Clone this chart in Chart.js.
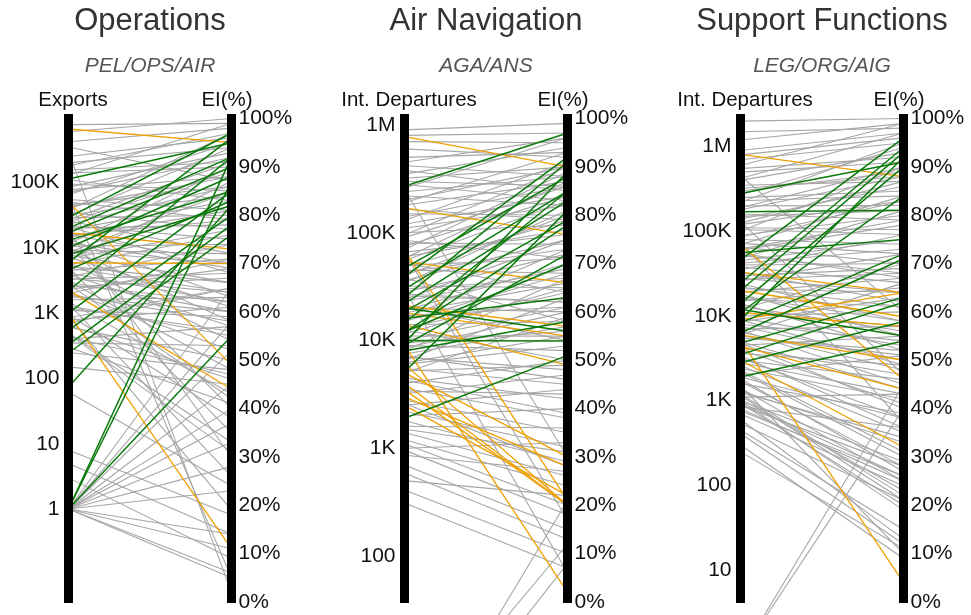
<!DOCTYPE html>
<html lang="en">
<head>
<meta charset="utf-8">
<title>Effective Implementation slope charts</title>
<script src="https://cdn.jsdelivr.net/npm/chart.js@4.4.1/dist/chart.umd.min.js"></script>
<style>
  html, body { margin: 0; padding: 0; width: 971px; height: 615px; overflow: hidden; background: #fff; }
  canvas { position: absolute; top: 0; }
</style>
</head>
<body>
<canvas id="ops" width="300" height="640" style="left:0px"></canvas>
<canvas id="ans" width="300" height="640" style="left:336px"></canvas>
<canvas id="sup" width="300" height="640" style="left:672px"></canvas>
<script>
// OPERATIONS (PEL/OPS/AIR) - exports vs EI %
const opsTicks = [1, 10, 100, 1000, 10000, 100000];
const opsTickLabels = ['1', '10', '100', '1K', '10K', '100K'];

const opsGreyExports = [770000, 420000, 250000, 200000, 155000, 85000, 77000, 45000, 38000, 32000,
  29000, 25000, 22000, 20000, 14600, 12000, 9200, 7800, 6900, 4900,
  4100, 3600, 3000, 2500, 1900, 1600, 1200, 780, 610, 430,
  350, 62, 5, 300000, 60000, 18000, 11000, 5000, 2800, 1400,
  900, 500, 600000, 350000, 130000, 110000, 65000, 50000, 27000, 16000,
  8500, 5500, 3300, 2000, 1100, 700, 400, 250, 150, 1,
  1, 1, 1, 1, 1, 1, 1, 1, 1, 1,
  1, 1,
  180000, 140000, 95000, 70000, 55000, 42000, 35000, 31000, 26000, 23000,
  21000, 19000, 15500, 13500, 11500, 10500, 9800, 8800, 8000, 7200,
  6500, 6000, 5200, 4500, 3900, 3400, 3100, 2700, 2300, 2100,
  1800, 1500, 1300, 950, 850, 650, 480, 300, 8, 3];
const opsGreyEI = [99, 98, 96, 94, 91, 93, 88, 86, 97, 84,
  80, 89, 75, 78, 81, 69, 72, 66, 77, 64,
  62, 74, 60, 67, 58, 63, 56, 61, 50, 47,
  53, 24, 14, 2, 5, 30, 40, 35, 42, 26,
  19, 33, 100, 87, 99, 83, 95, 79, 91, 70,
  85, 76, 68, 71, 59, 65, 57, 48, 45, 5,
  6, 11, 14, 23, 28, 33, 37, 40, 45, 52,
  58, 65,
  97, 90, 85, 92, 81, 88, 77, 94, 72, 86,
  68, 83, 79, 63, 90, 74, 58, 70, 82, 61,
  87, 54, 66, 71, 57, 64, 48, 62, 69, 52,
  60, 43, 55, 38, 65, 46, 31, 41, 18, 9];
const opsOrangeExports = [660000, 50000, 17000, 5900, 2250, 1000];
const opsOrangeEI = [95, 49, 73, 70, 44, 11];
const opsGreenExports = [113000, 29000, 20000, 17000, 13000, 10000, 7800, 6000, 4600, 2200,
  1000, 550, 330, 245, 74, 1, 1, 1];
const opsGreenEI = [95, 97, 92, 90, 85, 88, 82, 96, 83, 92,
  85, 80, 78, 76, 82, 92, 87, 55];

// AIR NAVIGATION (AGA/ANS) - international departures vs EI %
const ansTicks = [100, 1000, 10000, 100000, 1000000];
const ansTickLabels = ['100', '1K', '10K', '100K', '1M'];

const ansGreyDep = [900000, 700000, 500000, 420000, 350000, 300000, 260000, 220000, 200000, 180000,
  150000, 130000, 120000, 100000, 90000, 80000, 70000, 60000, 55000, 50000,
  45000, 40000, 36000, 32000, 28000, 26000, 23000, 20000, 18000, 16000,
  14000, 13000, 11000, 10000, 9000, 8000, 7500, 7000, 6500, 6000,
  5500, 5000, 4500, 4000, 3600, 3200, 2800, 2500, 2200, 2000,
  1800, 1600, 1400, 1200, 1000, 960, 860, 700, 590, 500,
  410, 310, 1, 1, 2, 250000, 65000, 30000,
  800000, 600000, 450000, 380000, 320000, 280000, 240000, 190000, 165000, 140000,
  110000, 95000, 85000, 75000, 66000, 58000, 52000, 48000, 43000, 38000,
  34000, 30000, 27000, 24000, 21000, 19000, 17000, 15000, 12500, 11500,
  9500, 8500, 7200, 6200, 5200, 4300, 3400, 2600, 1500, 1100];
const ansGreyEI = [99, 95, 93, 88, 94, 86, 96, 82, 90, 87,
  80, 91, 84, 78, 86, 74, 89, 77, 83, 71,
  68, 80, 75, 65, 72, 62, 69, 60, 66, 73,
  58, 64, 55, 61, 52, 67, 57, 48, 63, 53,
  45, 59, 42, 50, 38, 47, 35, 44, 32, 40,
  29, 36, 26, 24, 33, 18, 27, 15, 13, 22,
  10, 7, 21, 8, 12, 30, 17, 6,
  97, 92, 96, 85, 90, 83, 88, 93, 79, 86,
  82, 90, 71, 84, 76, 87, 64, 79, 73, 58,
  81, 67, 62, 75, 54, 70, 61, 68, 50, 65,
  56, 60, 46, 55, 49, 39, 43, 28, 31, 20];
const ansOrangeDep = [780000, 170000, 69000, 54000, 21000, 18000, 14000, 9000, 5000, 4000,
  3500, 3000, 2500, 6000];
const ansOrangeEI = [90, 76, 21, 66, 57, 55, 49, 2, 30, 20,
  20, 28, 22, 20];
const ansGreenDep = [270000, 47000, 39000, 30000, 25000, 22000, 18500, 14600, 11800, 9500,
  9000, 12000, 16000, 8000, 20000, 10000, 5100, 1900];
const ansGreenEI = [97, 88, 92, 85, 91, 83, 79, 85, 78, 89,
  72, 70, 63, 58, 56, 54, 81, 51];

// SUPPORT FUNCTIONS (LEG/ORG/AIG) - international departures vs EI %
const supTicks = [10, 100, 1000, 10000, 100000, 1000000];
const supTickLabels = ['10', '100', '1K', '10K', '100K', '1M'];

const supGreyDep = [2000000, 1500000, 900000, 700000, 600000, 500000, 400000, 350000, 300000, 250000,
  220000, 200000, 180000, 160000, 140000, 120000, 110000, 100000, 90000, 80000,
  70000, 65000, 60000, 52000, 48000, 42000, 38000, 35000, 30000, 28000,
  26000, 22000, 19000, 17000, 15000, 13000, 12000, 10000, 9500, 8500,
  7500, 7000, 6500, 6000, 5500, 5000, 4500, 4000, 3600, 3200,
  3000, 2600, 2400, 2200, 2000, 1800, 1600, 1400, 1300, 1200,
  1100, 1000, 930, 850, 700, 540, 410, 300, 250, 1,
  1, 450000, 130000, 75000, 950, 1050, 880, 1150, 800, 600,
  1500,
  1200000, 800000, 550000, 420000, 320000, 270000, 230000, 190000, 150000, 125000,
  105000, 85000, 72000, 62000, 55000, 45000, 40000, 33000, 27000, 24000,
  21000, 18000, 16000, 14000, 11000, 9000, 8000, 6800, 5800, 4800,
  4200, 3400, 2800, 2300, 1900, 1700, 1250, 1000, 760, 450];
const supGreyEI = [100, 98, 97, 95, 99, 91, 93, 87, 89, 85,
  95, 82, 88, 79, 86, 83, 77, 90, 80, 74,
  84, 70, 78, 68, 81, 73, 66, 76, 69, 64,
  72, 61, 67, 58, 65, 56, 70, 60, 53, 63,
  50, 57, 48, 66, 52, 44, 55, 41, 49, 38,
  46, 35, 42, 30, 51, 27, 39, 25, 33, 22,
  43, 29, 20, 36, 24, 21, 12, 9, 11, 45,
  40, 60, 47, 37, 26, 23, 28, 21, 25, 13,
  10,
  99, 96, 92, 97, 88, 94, 84, 90, 81, 87,
  76, 83, 72, 79, 67, 75, 70, 62, 68, 58,
  64, 55, 61, 52, 57, 49, 54, 45, 51, 40,
  47, 36, 43, 31, 38, 28, 34, 19, 26, 15];
const supOrangeDep = [810000, 69000, 33000, 20000, 11000, 9000, 6000, 4400, 3000, 5200];
const supOrangeEI = [88, 46, 64, 59, 57, 64, 50, 44, 32, 4];
const supGreenDep = [280000, 170000, 56000, 46000, 24500, 20000, 14000, 11000, 9000, 8300,
  6300, 4800, 3500, 2800, 1900, 12000];
const supGreenEI = [91, 81, 75, 96, 94, 93, 90, 84, 92, 72,
  71, 63, 62, 58, 54, 55];

const eiTicksStep = 10;

Chart.defaults.font.family = '"Liberation Sans", Arial, Helvetica, sans-serif';

const GREY = '#a6a6a6';
const ORANGE = '#f0a000';
const GREEN = '#0a7a0a';

// draws one line per state from the log axis (left) to the EI axis (right)
function slopeLines(leftName, groups) {
  return {
    id: 'slopeLines',
    afterDatasetsDraw(chart) {
      const { ctx, chartArea } = chart;
      const vol = chart.scales.vol;
      const ei = chart.scales.ei;
      ctx.save();
      groups.forEach(g => {
        ctx.strokeStyle = g.color;
        ctx.lineWidth = g.width;
        g.from.forEach((v, i) => {
          ctx.beginPath();
          ctx.moveTo(chartArea.left, vol.getPixelForValue(v));
          ctx.lineTo(chartArea.right, ei.getPixelForValue(g.to[i]));
          ctx.stroke();
        });
      });
      // axis names above the bars
      ctx.fillStyle = '#111';
      ctx.font = '20.5px "Liberation Sans", Arial, sans-serif';
      ctx.textAlign = 'center';
      ctx.textBaseline = 'middle';
      ctx.fillText(leftName, chartArea.left + 4.5, chartArea.top - 18.3);
      ctx.fillText('EI(%)', chartArea.right - 4.5, chartArea.top - 18.3);
      ctx.restore();
    }
  };
}

function makeChart(id, title, sub, leftName, min, max, ticks, tickLabels, groups) {
  const ctx = document.getElementById(id).getContext('2d');
  return new Chart(ctx, {
    type: 'line',
    data: { datasets: [] },
    options: {
      responsive: false,
      animation: false,
      events: [],
      layout: { padding: { top: 0, bottom: 38, left: 0, right: 0 } },
      scales: {
        x: { display: false },
        vol: {
          type: 'logarithmic',
          position: 'left',
          min: min,
          max: max,
          bounds: 'data',
          grid: { display: false, drawTicks: false },
          border: { display: true, color: '#000', width: 9, z: 1 },
          ticks: {
            padding: 9,
            color: '#111',
            autoSkip: false,
            font: { size: 21 },
            callback: (v, i) => tickLabels[i]
          },
          afterBuildTicks: (scale) => { scale.ticks = ticks.map(v => ({ value: v })); },
          afterFit: (scale) => { scale.width = 68.5; }
        },
        ei: {
          type: 'linear',
          position: 'right',
          min: 0,
          max: 100,
          grid: { display: false, drawTicks: false },
          border: { display: true, color: '#000', width: 9, z: 1 },
          ticks: {
            stepSize: eiTicksStep,
            padding: 7,
            color: '#111',
            autoSkip: false,
            font: { size: 21 },
            callback: (v) => v + '%'
          },
          afterFit: (scale) => { scale.width = 68.5; }
        }
      },
      plugins: {
        legend: { display: false },
        tooltip: { enabled: false },
        title: {
          display: true,
          text: title,
          color: '#333',
          font: { size: 31, weight: 'normal' },
          padding: { top: 3, bottom: 13 }
        },
        subtitle: {
          display: true,
          text: sub,
          color: '#555',
          font: { size: 21, style: 'italic', weight: 'normal' },
          padding: { top: 0, bottom: 40.1 }
        }
      }
    },
    plugins: [slopeLines(leftName, groups)]
  });
}

makeChart('ops', 'Operations', 'PEL/OPS/AIR', 'Exports', 0.0377, 955000, opsTicks, opsTickLabels, [
  { from: opsGreyExports, to: opsGreyEI, color: GREY, width: 1.1 },
  { from: opsOrangeExports, to: opsOrangeEI, color: ORANGE, width: 1.3 },
  { from: opsGreenExports, to: opsGreenEI, color: GREEN, width: 1.5 }
]);

makeChart('ans', 'Air Navigation', 'AGA/ANS', 'Int. Departures', 37.4, 1148000, ansTicks, ansTickLabels, [
  { from: ansGreyDep, to: ansGreyEI, color: GREY, width: 1.1 },
  { from: ansOrangeDep, to: ansOrangeEI, color: ORANGE, width: 1.3 },
  { from: ansGreenDep, to: ansGreenEI, color: GREEN, width: 1.5 }
]);

makeChart('sup', 'Support Functions', 'LEG/ORG/AIG', 'Int. Departures', 4.19, 2150000, supTicks, supTickLabels, [
  { from: supGreyDep, to: supGreyEI, color: GREY, width: 1.1 },
  { from: supOrangeDep, to: supOrangeEI, color: ORANGE, width: 1.3 },
  { from: supGreenDep, to: supGreenEI, color: GREEN, width: 1.5 }
]);
</script>
</body>
</html>
